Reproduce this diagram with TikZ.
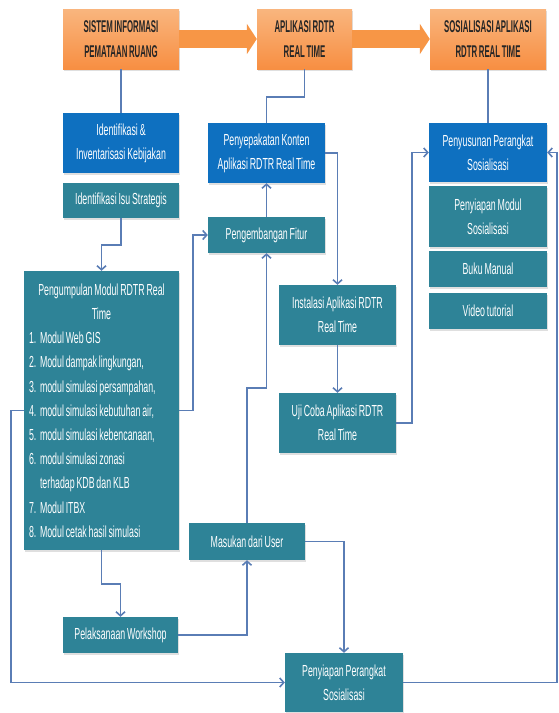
\documentclass[tikz,border=0pt]{standalone}
\usepackage{fontspec}
\usetikzlibrary{arrows.meta,shadows}
\newfontfamily\narrowsf[FakeStretch=0.55,WordSpace=0.75]{Liberation Sans}
\newfontfamily\narrowhead[FakeStretch=0.46,WordSpace=0.75]{Liberation Sans}
\newcommand{\listrow}[1]{\makebox[145pt][l]{#1}}
\definecolor{boxblue}{HTML}{0E70C0}
\definecolor{boxteal}{HTML}{2E8397}
\definecolor{boxorange}{HTML}{F79646}
\definecolor{linkblue}{HTML}{5A7DB5}
\begin{document}
\begin{tikzpicture}[x=1pt,y=-1pt,
	box/.style={inner sep=2pt,align=center,text=white,font=\narrowsf\fontsize{16}{24}\selectfont,
		drop shadow={opacity=0.25,shadow xshift=1pt,shadow yshift=-1.5pt}},
	bluebox/.style={box,fill=boxblue},
	tealbox/.style={box,fill=boxteal},
	orangebox/.style={box,text=black!85,top color=boxorange!70!white,bottom color=boxorange!95!red,
		font=\narrowhead\bfseries\fontsize{17}{25}\selectfont,minimum height=60pt},
	conn/.style={draw=linkblue,line width=1.6pt},
	arr/.style={conn,-{Straight Barb[length=4pt,width=9pt]}},
	bigarr/.style={draw=boxorange,line width=18pt,-{Triangle[length=10pt,width=30pt]}}]
	\useasboundingbox (0,0) rectangle (558,713);
	% top row
	\node (sip) at (121,39) [orangebox,minimum width=116pt] {SISTEM INFORMASI\\PEMATAAN RUANG};
	\node (apl) at (304.5,39) [orangebox,minimum width=95pt] {APLIKASI RDTR\\REAL TIME};
	\node (sos) at (488,39) [orangebox,minimum width=116pt] {SOSIALISASI APLIKASI\\RDTR REAL TIME};
	\draw[bigarr] (sip.east) -- (apl.west);
	\draw[bigarr] (apl.east) -- (sos.west);
	% left column
	\node (idk) at (121,143) [bluebox,minimum width=116pt,minimum height=60pt] {Identifikasi \&\\Inventarisasi Kebijakan};
	\node (isu) at (121,200.5) [tealbox,minimum width=116pt,minimum height=35pt] {Identifikasi Isu Strategis};
	\node (pm) at (101.5,410.5) [tealbox,minimum width=155pt,minimum height=279pt,
		font=\narrowsf\fontsize{16}{24.2}\selectfont] {%
		Pengumpulan Modul RDTR Real\\
		Time\\
		\listrow{1.\ \ Modul Web GIS}\\
		\listrow{2.\ \ Modul dampak lingkungan,}\\
		\listrow{3.\ \ modul simulasi persampahan,}\\
		\listrow{4.\ \ modul simulasi kebutuhan air,}\\
		\listrow{5.\ \ modul simulasi kebencanaan,}\\
		\listrow{6.\ \ modul simulasi zonasi}\\
		\listrow{\phantom{6.\ \ }terhadap KDB dan KLB}\\
		\listrow{7.\ \ Modul ITBX}\\
		\listrow{8.\ \ Modul cetak hasil simulasi}};
	\node (pw) at (120.5,635) [tealbox,minimum width=115pt,minimum height=36pt] {Pelaksanaan Workshop};
	% middle columns
	\node (pk) at (266.5,153) [bluebox,minimum width=117pt,minimum height=60pt] {Penyepakatan Konten\\Aplikasi RDTR Real Time};
	\node (pf) at (266.5,235) [tealbox,minimum width=117pt,minimum height=36pt] {Pengembangan Fitur};
	\node (inst) at (337.5,315) [tealbox,minimum width=117pt,minimum height=60pt] {Instalasi Aplikasi RDTR\\Real Time};
	\node (uji) at (337.5,423) [tealbox,minimum width=117pt,minimum height=60pt] {Uji Coba Aplikasi RDTR\\Real Time};
	\node (ms) at (247,541.5) [tealbox,minimum width=116pt,minimum height=37pt] {Masukan dari User};
	\node (pp) at (344,682.5) [tealbox,minimum width=118pt,minimum height=59pt] {Penyiapan Perangkat\\Sosialisasi};
	% right column
	\node (pn) at (488,152.5) [bluebox,minimum width=118pt,minimum height=59pt] {Penyusunan Perangkat\\Sosialisasi};
	\node (pmod) at (488,216.5) [tealbox,minimum width=118pt,minimum height=61pt] {Penyiapan Modul\\Sosialisasi};
	\node (bm) at (488,269) [tealbox,minimum width=118pt,minimum height=36pt] {Buku Manual};
	\node (vt) at (488,311) [tealbox,minimum width=118pt,minimum height=36pt] {Video tutorial};
	% connectors
	\draw[conn] (sip.south) -- (sip.south |- idk.north);
	\draw[conn] (apl.south) -- ++(0,28) -| (pk.north);
	\draw[conn] (sos.south) -- (sos.south |- pn.north);
	\draw[arr] (isu.south) -- ++(0,27) -| (pm.north);
	\draw[arr] (pm.west) -- ++(-13,0) |- (pp.west);
	\draw[arr] (pm.east) -- ++(14,0) |- (pf.west);
	\draw[arr] (pf.north) -- (pk.south);
	\draw[arr] (pk.east) -| (inst.north);
	\draw[arr] (inst.south) -- (uji.north);
	\draw[arr] (uji.east) -- ++(16,0) |- (pn.west);
	\draw[arr] (pm.south) -- ++(0,34) -| (pw.north);
	\draw[arr] (pw.east) -| (ms.south);
	\draw[arr] (ms.north) -- ++(0,-135) -| (pf.south);
	\draw[arr] (ms.east) -| (pp.north);
	\draw[arr] (pp.east) -- ++(154,0) |- (pn.east);
\end{tikzpicture}
\end{document}
